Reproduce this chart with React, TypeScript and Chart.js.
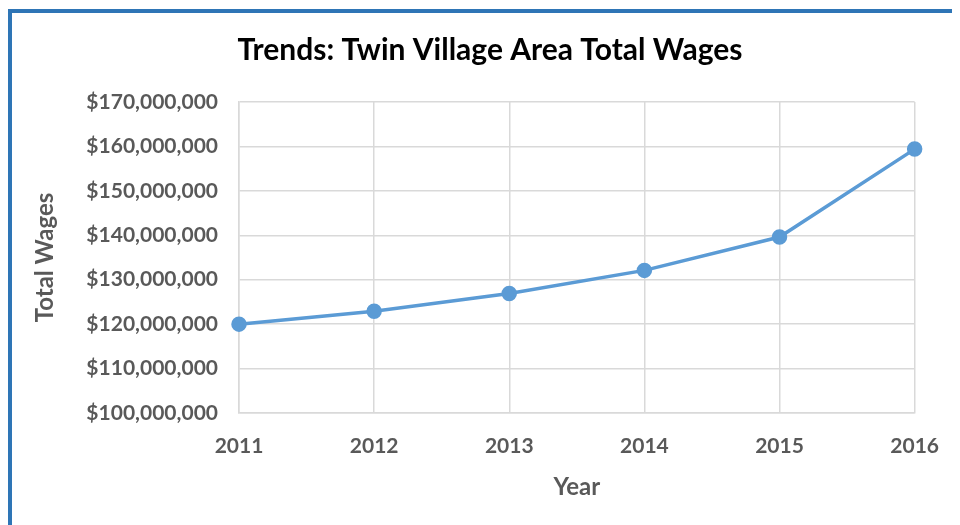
import React, { useEffect, useRef } from "react";
import { Chart, registerables } from "chart.js";

Chart.register(...registerables);

const years = ["2011", "2012", "2013", "2014", "2015", "2016"];
const totalWages = [120000000, 122900000, 126900000, 132100000, 139600000, 159400000];
const yMin = 100000000;
const yMax = 170000000;
const yStep = 10000000;

const FONT = "Lato, 'Open Sans', sans-serif";

export default function App() {
  const ref = useRef<HTMLCanvasElement | null>(null);

  useEffect(() => {
    if (!ref.current) return;
    const chart = new Chart(ref.current, {
      type: "line",
      data: {
        labels: years,
        datasets: [
          {
            label: "Total Wages",
            data: totalWages,
            borderColor: "#5B9BD5",
            backgroundColor: "#5B9BD5",
            borderWidth: 3.5,
            pointRadius: 6,
            pointBackgroundColor: "#5B9BD5",
            pointBorderColor: "#5B9BD5",
            tension: 0,
            yAxisID: "y",
          },
        ],
      },
      options: {
        responsive: true,
        maintainAspectRatio: false,
        animation: false,
        layout: { padding: { left: 8, right: 0, top: 0, bottom: 0 } },
        plugins: {
          legend: { display: false },
          tooltip: { enabled: false },
          title: {
            display: true,
            text: "Trends: Twin Village Area Total Wages",
            color: "#000000",
            font: { family: FONT, size: 30, weight: "bold" },
            padding: { top: 19, bottom: 34 },
          },
        },
        scales: {
          x: {
            offset: false,
            grid: { color: "#D9D9D9", lineWidth: 1.5, drawTicks: false },
            border: { color: "#D9D9D9", width: 1.5 },
            ticks: {
              color: "#595959",
              font: { family: FONT, size: 21, weight: "bold" },
              padding: 21,
              maxRotation: 0,
            },
            title: {
              display: true,
              text: "Year",
              color: "#595959",
              font: { family: FONT, size: 24, weight: "bold" },
              padding: { top: 10, bottom: 23 },
            },
            afterFit: (scale: any) => {
              scale.height = 112;
            },
          },
          y: {
            min: yMin,
            max: yMax,
            grid: { color: "#D9D9D9", lineWidth: 1.5, drawTicks: false },
            border: { color: "#D9D9D9", width: 1.5 },
            ticks: {
              stepSize: yStep,
              color: "#595959",
              font: { family: FONT, size: 21, weight: "bold" },
              padding: 21,
              callback: (v: any) => "$" + Number(v).toLocaleString("en-US"),
            },
            title: {
              display: true,
              text: "Total Wages",
              color: "#595959",
              font: { family: FONT, size: 24, weight: "bold" },
              padding: { top: 11, bottom: 0 },
            },
            afterFit: (scale: any) => {
              scale.width = 219;
            },
          },
          yRight: {
            position: "right",
            display: true,
            grid: { display: false, drawTicks: false },
            border: { display: false },
            ticks: { display: false },
            afterFit: (scale: any) => {
              scale.width = 40;
            },
          },
        },
      },
    });
    return () => chart.destroy();
  }, []);

  return (
    <div
      style={{
        marginTop: 1,
        borderTop: "4px solid #2E75B6",
        borderLeft: "4px solid #2E75B6",
        width: 948,
        height: 512,
        background: "#ffffff",
        position: "relative",
      }}
    >
      <canvas ref={ref} />
    </div>
  );
}
